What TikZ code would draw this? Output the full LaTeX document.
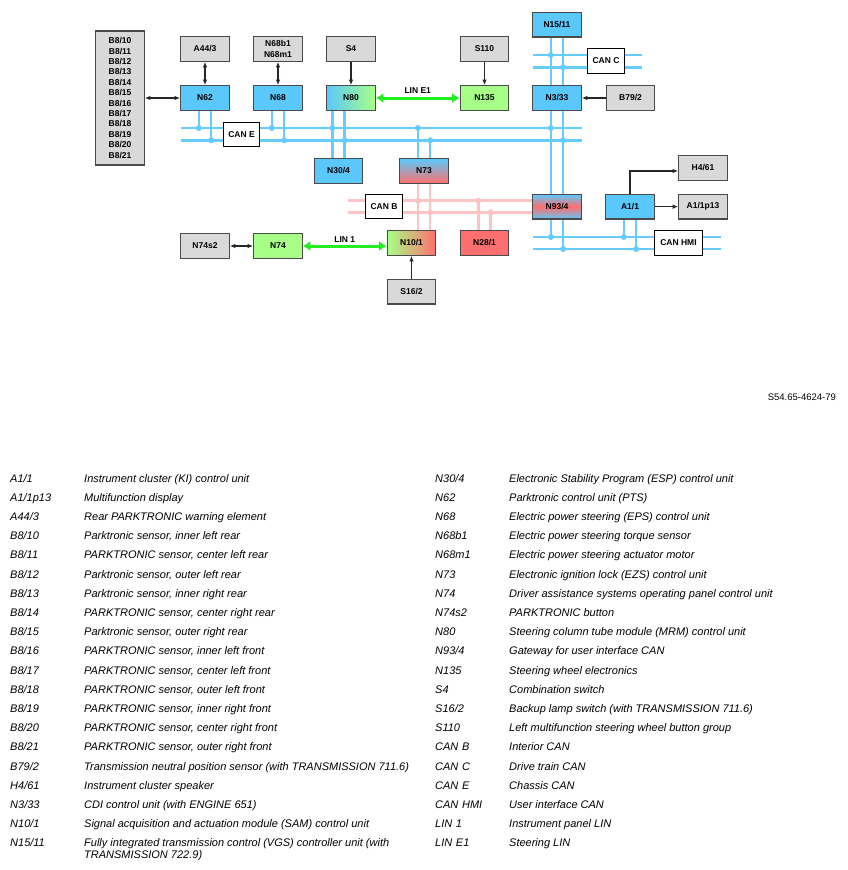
\documentclass[tikz,border=0pt]{standalone}
\usepackage{fontspec}
\setmainfont{Liberation Sans}
\usetikzlibrary{arrows.meta, matrix}
\pgfdeclarelayer{wires}
\pgfsetlayers{wires,main}

\definecolor{ecublue}{HTML}{5BC8FB}
\definecolor{buswire}{HTML}{66CCFF}
\definecolor{bpink}{HTML}{FCC4C4}
\definecolor{partgray}{HTML}{D9D9D9}
\definecolor{boxline}{HTML}{4A4A4A}
\definecolor{lingreen}{HTML}{A8FF88}
\definecolor{ecured}{HTML}{FF6F6F}
\definecolor{linwire}{HTML}{22EE22}
\definecolor{sigline}{HTML}{262626}

\tikzset{
  box/.style={draw=boxline, line width=1.2pt, minimum width=48.5pt, minimum height=24.5pt,
    inner sep=1pt, align=center, font=\bfseries\fontsize{8.5}{10.4}\selectfont},
  ecu/.style={box, fill=ecublue},
  part/.style={box, fill=partgray},
  linecu/.style={box, fill=lingreen},
  busname/.style={box, draw=black, fill=white, minimum width=36.5pt},
  canwire/.style={line width=2.5pt, buswire},
  bwire/.style={line width=2.5pt, bpink},
  sig/.style={line width=1.1pt, sigline, -{Latex[length=5.5pt,width=4.5pt]}},
  sigboth/.style={sig, {Latex[length=5.5pt,width=4.5pt]}-{Latex[length=5.5pt,width=4.5pt]}},
  linbus/.style={line width=3pt, linwire, {Latex[length=7.5pt,width=10pt]}-{Latex[length=7.5pt,width=10pt]}},
  linname/.style={text=black, font=\bfseries\fontsize{8.5}{10}\selectfont, inner sep=2pt},
}

\begin{document}
\begin{tikzpicture}[x=1pt, y=-1pt]
\useasboundingbox (0,0) rectangle (847,870);

% control units
\node[part, minimum height=134pt] (b8) at (120,98)
  {B8/10\\B8/11\\B8/12\\B8/13\\B8/14\\B8/15\\B8/16\\B8/17\\B8/18\\B8/19\\B8/20\\B8/21};
\node[part] (a443) at (205,49) {A44/3};
\node[ecu] (n62) at (205,98) {N62};
\node[part] (n68b) at (278,49) {N68b1\\N68m1};
\node[ecu] (n68) at (278,98) {N68};
\node[part] (s4) at (351,49) {S4};
\node[box, left color=ecublue, right color=lingreen] (n80) at (351,98) {N80};
\node[part] (s110) at (484.5,49) {S110};
\node[linecu] (n135) at (484.5,98) {N135};
\node[ecu] (n1511) at (557,24.7) {N15/11};
\node[busname] (canc) at (606,61) {CAN C};
\node[ecu] (n333) at (557,98) {N3/33};
\node[part] (b792) at (630.5,98) {B79/2};
\node[busname] (cane) at (241.5,134.5) {CAN E};
\node[ecu] (n304) at (338.5,171) {N30/4};
\node[box, top color=ecublue, bottom color=ecured] (n73) at (424,171) {N73};
\node[busname] (canb) at (384,206.5) {CAN B};
\node[box, top color=ecublue, bottom color=ecublue, middle color=ecured] (n934) at (557,206.7) {N93/4};
\node[ecu] (a11) at (630,206.7) {A1/1};
\node[part] (h461) at (703,168) {H4/61};
\node[part] (a11p) at (703,206.7) {A1/1p13};
\node[part] (n74s) at (205,246) {N74s2};
\node[linecu] (n74) at (278,246) {N74};
\node[box, left color=lingreen, right color=ecured] (n101) at (411.5,243) {N10/1};
\node[box, fill=ecured] (n281) at (484.5,243) {N28/1};
\node[part] (s162) at (411.5,291.7) {S16/2};
\node[busname, minimum width=48.5pt] (canhmi) at (678.5,243) {CAN HMI};

% bus lines
\begin{pgfonlayer}{wires}
  \fill[white] (0,0) rectangle (847,870);
  \coordinate (e1) at (180.7,128);   \coordinate (e1e) at (581.7,128);
  \coordinate (e2) at (180.7,140.3); \coordinate (e2e) at (581.7,140.3);
  \coordinate (c1) at (533,55);      \coordinate (c1e) at (642,55);
  \coordinate (c2) at (533,67.3);    \coordinate (c2e) at (642,67.3);
  \coordinate (b1) at (348.3,200.7);
  \coordinate (b2) at (348.3,212.3);
  \coordinate (h1) at (533,237);     \coordinate (h1e) at (721,237);
  \coordinate (h2) at (533,249);     \coordinate (h2e) at (721,249);
  \draw[canwire] (e1) -- (e1e) (e2) -- (e2e) (c1) -- (c1e) (c2) -- (c2e)
                 (h1) -- (h1e) (h2) -- (h2e);
  \draw[bwire] (b1) -- (b1 -| n934.west) (b2) -- (b2 -| n934.west);
  \foreach \s/\k in {-6.2pt/1, 6.2pt/2} {
    \foreach \u in {n62, n68} {
      \draw[canwire] ([xshift=\s]\u.south) -- ([xshift=\s]\u.south |- e\k);
      \fill[buswire] ([xshift=\s]\u.south |- e\k) circle (3pt);
    }
    \draw[canwire] ([xshift=\s]n304.north |- n80.south) -- ([xshift=\s]n304.north);
    \draw[canwire] ([xshift=\s]n73.north |- e\k) -- ([xshift=\s]n73.north);
    \draw[canwire] ([xshift=\s]n1511.south) -- ([xshift=\s]n333.north)
                   ([xshift=\s]n333.south) -- ([xshift=\s]n934.north)
                   ([xshift=\s]n934.south) -- ([xshift=\s]n934.south |- h\k);
    \draw[canwire] ([xshift=\s]a11.south) -- ([xshift=\s]a11.south |- h\k);
    \fill[buswire] ([xshift=\s]n304.north |- e\k) circle (3pt)
                   ([xshift=\s]n73.north |- e\k) circle (3pt)
                   ([xshift=\s]n1511.south |- c\k) circle (3pt)
                   ([xshift=\s]n333.south |- e\k) circle (3pt)
                   ([xshift=\s]n934.south |- h\k) circle (3pt)
                   ([xshift=\s]a11.south |- h\k) circle (3pt);
    \draw[bwire] ([xshift=\s]n73.south) -- ([xshift=\s]n73.south |- n101.north);
    \draw[bwire] ([xshift=\s]n281.north |- b\k) -- ([xshift=\s]n281.north);
    \fill[bpink] ([xshift=\s]n73.south |- b\k) circle (3pt)
                 ([xshift=\s]n281.north |- b\k) circle (3pt);
  }
\end{pgfonlayer}

% signal lines
\draw[sigboth] (b8) -- (n62);
\draw[sigboth] (a443) -- (n62);
\draw[sigboth] (n68b) -- (n68);
\draw[sig] (s4) -- (n80);
\draw[sig] (s110) -- (n135);
\draw[sig] (b792) -- (n333);
\draw[sig] (s162) -- (n101);
\draw[sigboth] (n74s) -- (n74);
\draw[sig] (a11.north) |- ([yshift=-3pt]h461.west);
\draw[sig] (a11) -- (a11p);

% LIN
\draw[linbus] (n80) -- node[linname, above=1pt] {LIN E1} (n135);
\draw[linbus] (n74.east) -- node[linname, above] {LIN 1} (n74.east -| n101.west);

\node[anchor=base east, font=\fontsize{9.5}{11}\selectfont] (ref) at (839.5,400) {S54.65-4624-79};

% legend
\tikzset{legend/.style={matrix of nodes, anchor=north west, inner sep=0pt,
  row sep=8.2pt, column sep=0pt,
  nodes={anchor=base west, inner sep=0pt, text height=8pt, text depth=3pt,
    font=\itshape\fontsize{11}{12}\selectfont},
  column 1/.style={nodes={text width=74pt}}}}
\matrix (legl) [legend] at (10,473.9) {
  A1/1 & Instrument cluster (KI) control unit \\
  A1/1p13 & Multifunction display \\
  A44/3 & Rear PARKTRONIC warning element \\
  B8/10 & Parktronic sensor, inner left rear \\
  B8/11 & PARKTRONIC sensor, center left rear \\
  B8/12 & Parktronic sensor, outer left rear \\
  B8/13 & Parktronic sensor, inner right rear \\
  B8/14 & PARKTRONIC sensor, center right rear \\
  B8/15 & Parktronic sensor, outer right rear \\
  B8/16 & PARKTRONIC sensor, inner left front \\
  B8/17 & PARKTRONIC sensor, center left front \\
  B8/18 & PARKTRONIC sensor, outer left front \\
  B8/19 & PARKTRONIC sensor, inner right front \\
  B8/20 & PARKTRONIC sensor, center right front \\
  B8/21 & PARKTRONIC sensor, outer right front \\
  B79/2 & Transmission neutral position sensor (with TRANSMISSION 711.6) \\
  H4/61 & Instrument cluster speaker \\
  N3/33 & CDI control unit (with ENGINE 651) \\
  N10/1 & Signal acquisition and actuation module (SAM) control unit \\
  N15/11 & {\parbox[t]{330pt}{Fully integrated transmission control (VGS) controller unit (with\newline TRANSMISSION 722.9)}} \\
};
\matrix (legr) [legend] at (435,473.9) {
  N30/4 & Electronic Stability Program (ESP) control unit \\
  N62 & Parktronic control unit (PTS) \\
  N68 & Electric power steering (EPS) control unit \\
  N68b1 & Electric power steering torque sensor \\
  N68m1 & Electric power steering actuator motor \\
  N73 & Electronic ignition lock (EZS) control unit \\
  N74 & Driver assistance systems operating panel control unit \\
  N74s2 & PARKTRONIC button \\
  N80 & Steering column tube module (MRM) control unit \\
  N93/4 & Gateway for user interface CAN \\
  N135 & Steering wheel electronics \\
  S4 & Combination switch \\
  S16/2 & Backup lamp switch (with TRANSMISSION 711.6) \\
  S110 & Left multifunction steering wheel button group \\
  CAN B & Interior CAN \\
  CAN C & Drive train CAN \\
  CAN E & Chassis CAN \\
  CAN HMI & User interface CAN \\
  LIN 1 & Instrument panel LIN \\
  LIN E1 & Steering LIN \\
};
\end{tikzpicture}
\end{document}
